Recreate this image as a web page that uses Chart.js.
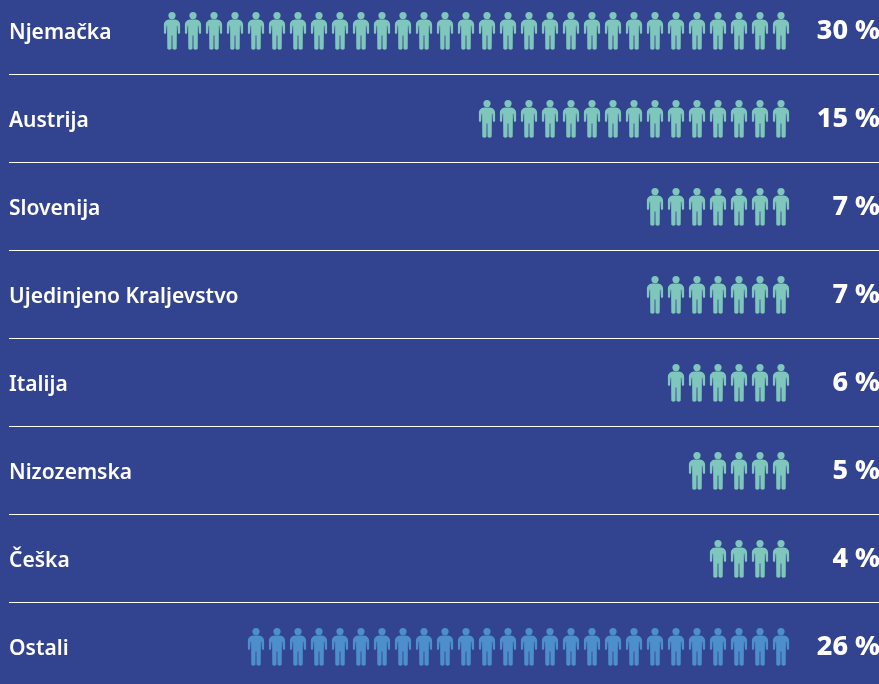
<!DOCTYPE html>
<html lang="hr"><head><meta charset="utf-8">
<style>html,body{margin:0;padding:0;background:#324390}canvas{display:block}</style>
<script src="https://cdn.jsdelivr.net/npm/chart.js@4"></script></head>
<body><canvas id="c" width="879" height="684"></canvas>
<script>
const countries = ["Njemačka","Austrija","Slovenija","Ujedinjeno Kraljevstvo","Italija","Nizozemska","Češka","Ostali"];
const shares = [30,15,7,7,6,5,4,26];
const shareLabels = ["30 %","15 %","7 %","7 %","6 %","5 %","4 %","26 %"];
const tealCountries = countries.slice(0,7);
const blueCountries = countries.slice(7);

function person(color){
  const c=document.createElement('canvas');c.width=18;c.height=40;
  const g=c.getContext('2d');g.translate(0,2);g.fillStyle=color;
  g.beginPath();g.arc(9,3.6,3.6,0,Math.PI*2);g.fill();
  g.beginPath();
  g.moveTo(6.2,7.6);g.lineTo(11.8,7.6);
  g.bezierCurveTo(15,7.8,17.1,10,17.1,13);
  g.lineTo(17.1,21);g.quadraticCurveTo(16,23,14.9,21);
  g.lineTo(14.4,13.8);g.lineTo(13.9,13.8);
  g.lineTo(13.7,36.8);g.quadraticCurveTo(11.6,38.5,9.5,36.8);
  g.lineTo(9.4,23.5);g.lineTo(8.6,23.5);g.lineTo(8.5,36.8);
  g.quadraticCurveTo(6.4,38.5,4.3,36.8);
  g.lineTo(4.1,13.8);g.lineTo(3.6,13.8);g.lineTo(3.1,21);
  g.quadraticCurveTo(2,23,0.9,21);g.lineTo(0.9,13);
  g.bezierCurveTo(0.9,10,3,7.8,6.2,7.6);
  g.closePath();g.fill();
  return c;
}
function pts(list){
  const out=[];
  list.forEach(n=>{const k=shares[countries.indexOf(n)];for(let i=0;i<k;i++)out.push({x:i,y:n});});
  return out;
}
const labelFont={family:'"Noto Sans"',size:21,weight:'600'};
const shareFont={family:'"Noto Sans"',size:27,weight:'800'};
new Chart(document.getElementById('c'),{
  type:'scatter',
  data:{datasets:[
    {label:'Teal',data:pts(tealCountries),pointStyle:person('#7FC6BC'),clip:false,yAxisID:'y'},
    {label:'Blue',data:pts(blueCountries),pointStyle:person('#4C8FCC'),clip:false,yAxisID:'y'}
  ]},
  options:{
    responsive:false,animation:false,devicePixelRatio:1,
    layout:{autoPadding:false,padding:{left:9,right:0,top:30,bottom:38}},
    plugins:{legend:{display:false},tooltip:{enabled:false}},
    scales:{
      x:{type:'linear',reverse:true,display:false,min:-98/21,max:772/21},
      y:{type:'category',labels:countries,offset:false,position:'left',
         border:{display:false},
         grid:{offset:true,color:'#ffffff',lineWidth:1,drawTicks:false},
         ticks:{mirror:true,padding:0,autoSkip:false,labelOffset:3,color:'#ffffff',font:labelFont}},
      y2:{type:'category',labels:shareLabels,offset:false,position:'right',
         border:{display:false},grid:{display:false,drawTicks:false},
         afterFit(s){s.width=0;},
         ticks:{mirror:true,padding:1,autoSkip:false,labelOffset:1,color:'#ffffff',font:shareFont}}
    }
  },
  plugins:[{id:'bg',beforeDraw(ch){const g=ch.ctx;g.save();g.fillStyle='#324390';g.fillRect(0,0,ch.width,ch.height);g.restore();}}]
});
</script></body></html>
